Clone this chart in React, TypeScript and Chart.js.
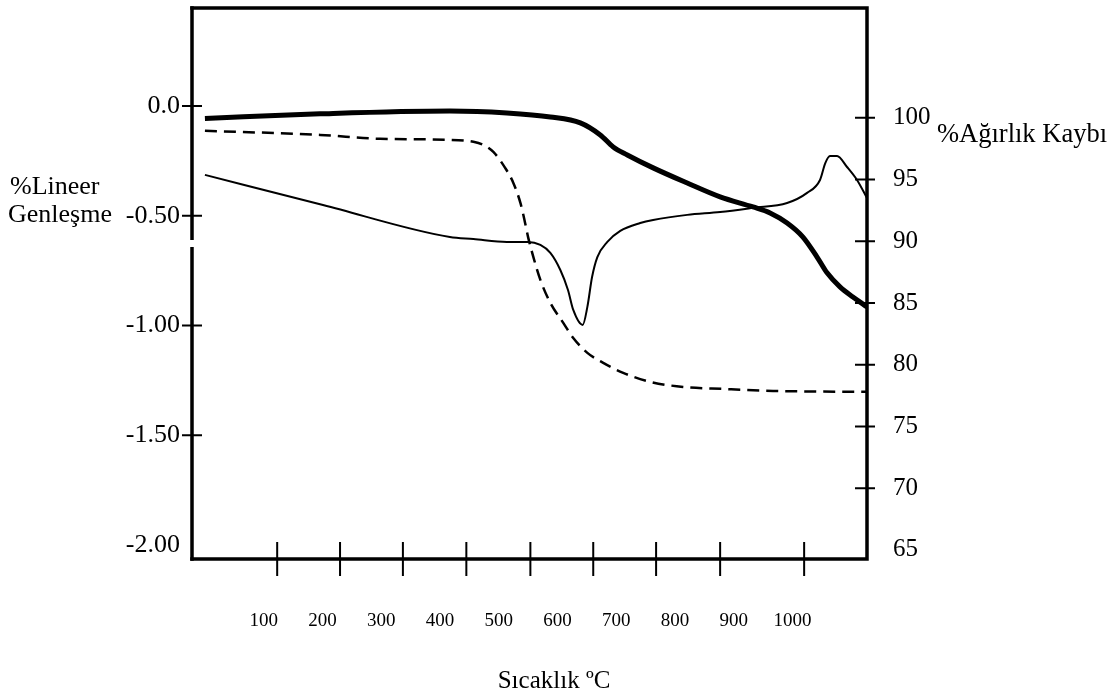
import { useEffect, useRef } from 'react';
import { Chart, registerables } from 'chart.js';

Chart.register(...registerables);

const FONT = '"Liberation Serif", "Times New Roman", serif';

// Temperature axis labels (°C) and hand-drawn tick marks along the bottom axis (°C)
const xLabels = [100, 200, 300, 400, 500, 600, 700, 800, 900, 1000];
const xTickMarks = [123, 230, 337, 445, 554, 661, 768, 877, 1020];

// Left axis: % linear expansion
const leftTicks = [0, -0.5, -1.0, -1.5, -2.0];
const leftAxisBreak = [-0.61, -0.642];

// Right axis: % weight
const rightTicks = [100, 95, 90, 85, 80, 75, 70, 65];

// Thick curve (left axis)
const tempThick = [0, 196, 417, 514, 588, 639, 673, 695, 719, 763, 821, 877, 933, 962, 991, 1018, 1042, 1059, 1081, 1103, 1127];
const expansionThick = [-0.057, -0.036, -0.023, -0.032, -0.05, -0.077, -0.132, -0.187, -0.223, -0.282, -0.351, -0.414, -0.46, -0.487, -0.533, -0.597, -0.688, -0.76, -0.824, -0.87, -0.915];

// Thin curve (left axis)
const tempThin = [0, 201, 417, 457, 514, 550, 571, 588, 605, 618, 627, 643, 651, 659, 668, 685, 707, 741, 763, 821, 877, 933, 991, 1025, 1047, 1056, 1064, 1076, 1093, 1110, 1127];
const expansionThin = [-0.314, -0.451, -0.597, -0.606, -0.619, -0.619, -0.633, -0.669, -0.747, -0.838, -0.929, -0.997, -0.915, -0.779, -0.688, -0.619, -0.569, -0.533, -0.519, -0.496, -0.483, -0.464, -0.442, -0.396, -0.337, -0.26, -0.228, -0.228, -0.278, -0.337, -0.419];

// Dashed curve (right axis, weight %)
const tempDashed = [0, 196, 298, 417, 457, 474, 491, 511, 525, 537, 545, 550, 559, 571, 588, 610, 627, 651, 678, 712, 758, 814, 882, 967, 1127];
const weightDashed = [98.95, 98.62, 98.3, 98.22, 98.06, 97.81, 97.24, 95.95, 94.73, 93.11, 91.49, 90.36, 88.74, 86.87, 85.01, 83.39, 82.17, 80.96, 80.15, 79.34, 78.61, 78.2, 78.04, 77.88, 77.8];

const zip = (xs: number[], ys: number[]) => xs.map((x, i) => ({ x, y: ys[i] }));

const noEdgePadding = (s: any) => {
  s.paddingTop = 0;
  s.paddingBottom = 0;
  s.paddingLeft = 0;
  s.paddingRight = 0;
};

const framePlugin = {
  id: 'frame',
  afterDatasetsDraw(chart: any) {
    const { ctx, chartArea: a, scales } = chart;
    const x = scales.x;
    const yl = scales.y;
    const yr = scales.y2;
    ctx.save();
    ctx.strokeStyle = '#000';
    ctx.lineJoin = 'miter';
    ctx.lineCap = 'butt';
    ctx.lineWidth = 3.5;
    ctx.beginPath();
    ctx.moveTo(a.left - 1.75, a.top);
    ctx.lineTo(a.right, a.top);
    ctx.lineTo(a.right, a.bottom);
    ctx.lineTo(a.left - 1.75, a.bottom);
    ctx.stroke();

    // left axis, drawn with a short break
    const b0 = yl.getPixelForValue(leftAxisBreak[0]);
    const b1 = yl.getPixelForValue(leftAxisBreak[1]);
    ctx.beginPath();
    ctx.moveTo(a.left, a.top - 1.75);
    ctx.lineTo(a.left, b0);
    ctx.moveTo(a.left, b1);
    ctx.lineTo(a.left, a.bottom + 1.75);
    ctx.stroke();

    // tick marks crossing the axes
    ctx.lineWidth = 2;
    ctx.beginPath();
    leftTicks.forEach((v) => {
      if (v === Math.min(...leftTicks)) return;
      const p = yl.getPixelForValue(v);
      ctx.moveTo(a.left - 10, p);
      ctx.lineTo(a.left + 10, p);
    });
    rightTicks.forEach((v) => {
      if (v === Math.min(...rightTicks)) return;
      const p = yr.getPixelForValue(v);
      ctx.moveTo(a.right - 12, p);
      ctx.lineTo(a.right + 8, p);
    });
    xTickMarks.forEach((v) => {
      const p = x.getPixelForValue(v);
      ctx.moveTo(p, a.bottom - 17);
      ctx.lineTo(p, a.bottom + 17);
    });
    ctx.stroke();

    // axis titles
    ctx.fillStyle = '#000';
    ctx.textBaseline = 'alphabetic';
    ctx.textAlign = 'left';
    ctx.font = `26px ${FONT}`;
    ctx.fillText('%Lineer', 10, 194);
    ctx.fillText('Genleşme', 8, 222);
    ctx.font = `26.5px ${FONT}`;
    ctx.fillText('%Ağırlık Kaybı', 937, 142);
    ctx.textAlign = 'center';
    ctx.font = `25px ${FONT}`;
    ctx.fillText('Sıcaklık ºC', 554, 688);
    ctx.restore();
  },
};

export default function App() {
  const canvasRef = useRef<HTMLCanvasElement | null>(null);

  useEffect(() => {
    if (!canvasRef.current) return;
    const chart = new Chart(canvasRef.current, {
      type: 'line',
      data: {
        datasets: [
          {
            data: zip(tempThick, expansionThick),
            yAxisID: 'y',
            borderColor: '#000',
            borderWidth: 5,
            pointRadius: 0,
            cubicInterpolationMode: 'monotone',
          },
          {
            data: zip(tempThin, expansionThin),
            yAxisID: 'y',
            borderColor: '#000',
            borderWidth: 2,
            pointRadius: 0,
            cubicInterpolationMode: 'monotone',
          },
          {
            data: zip(tempDashed, weightDashed),
            yAxisID: 'y2',
            borderColor: '#000',
            borderWidth: 2.5,
            borderDash: [12, 7],
            pointRadius: 0,
            cubicInterpolationMode: 'monotone',
          },
        ],
      },
      options: {
        animation: false,
        responsive: false,
        devicePixelRatio: 1,
        layout: { padding: { top: 8, left: 0, right: 0, bottom: 0 } },
        plugins: { legend: { display: false }, tooltip: { enabled: false } },
        scales: {
          x: {
            type: 'linear',
            position: 'bottom',
            min: -22,
            max: 1127,
            grid: { display: false, drawTicks: false },
            border: { display: false },
            afterBuildTicks: (s: any) => {
              s.ticks = xLabels.map((value) => ({ value }));
            },
            afterFit: (s: any) => {
              s.height = 136;
              noEdgePadding(s);
            },
            ticks: {
              autoSkip: false,
              maxRotation: 0,
              padding: 51,
              color: '#000',
              font: { family: FONT, size: 19 },
              callback: (v: any) => String(v),
            },
          },
          y: {
            type: 'linear',
            position: 'left',
            min: -2.063,
            max: 0.446,
            grid: { display: false, drawTicks: false },
            border: { display: false },
            afterBuildTicks: (s: any) => {
              s.ticks = leftTicks.map((value) => ({ value }));
            },
            afterFit: (s: any) => {
              s.width = 192;
              noEdgePadding(s);
            },
            ticks: {
              padding: 12,
              color: '#000',
              font: { family: FONT, size: 26 },
              callback: (v: any) => (Number(v) === 0 ? '0.0' : Number(v).toFixed(2)),
            },
          },
          y2: {
            type: 'linear',
            position: 'right',
            min: 64.26,
            max: 108.9,
            grid: { display: false, drawTicks: false },
            border: { display: false },
            afterBuildTicks: (s: any) => {
              s.ticks = rightTicks.map((value) => ({ value }));
            },
            afterFit: (s: any) => {
              s.width = 251;
              noEdgePadding(s);
            },
            ticks: {
              padding: 26,
              color: '#000',
              font: { family: FONT, size: 25 },
              callback: (v: any) => String(v),
            },
          },
        },
      },
      plugins: [framePlugin],
    } as any);
    return () => chart.destroy();
  }, []);

  return (
    <div style={{ position: 'fixed', left: 0, top: 0, width: 1118, height: 695, background: '#fff' }}>
      <canvas ref={canvasRef} width={1118} height={695} style={{ display: 'block' }} />
    </div>
  );
}
